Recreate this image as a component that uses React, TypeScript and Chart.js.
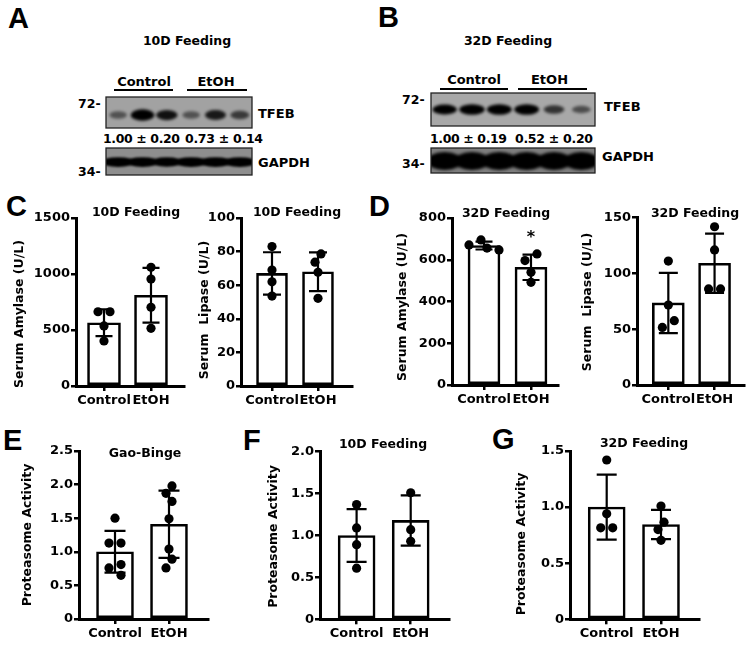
import React, { useEffect, useRef } from 'react';
import { Chart, registerables } from 'chart.js';
Chart.register(...registerables);

const W = 749;
const H = 645;
const FONT = '"DejaVu Sans", sans-serif';
const LETTER_FONT = '"Liberation Sans", Arial, sans-serif';

Chart.defaults.color = '#000';
Chart.defaults.font.family = FONT;

// ---------- data ----------
const groups = ['Control', 'EtOH'];

// C – 10D feeding
const amylase10Ticks = ['0', '500', '1000', '1500'];
const amylase10Mean = [565, 810];
const amylase10Sd = [120, 245];
const amylase10Control = [663, 663, 536, 402];
const amylase10Etoh = [1060, 955, 703, 515];

const lipase10Ticks = ['0', '20', '40', '60', '80', '100'];
const lipase10Mean = [67, 68];
const lipase10Sd = [12.6, 11.5];
const lipase10Control = [83, 69, 62, 53.5];
const lipase10Etoh = [78.6, 73.7, 67.7, 52.2];

// D – 32D feeding
const amylase32Ticks = ['0', '200', '400', '600', '800'];
const amylase32Mean = [668, 564];
const amylase32Sd = [19, 61];
const amylase32Control = [695, 671, 656, 647];
const amylase32Etoh = [628, 596, 540, 492];
const amylase32Marks = ['', '*'];

const lipase32Ticks = ['0', '50', '100', '150'];
const lipase32Mean = [73.5, 109];
const lipase32Sd = [27, 26.5];
const lipase32Control = [111, 71.6, 57.6, 51.6];
const lipase32Etoh = [141.7, 121, 86, 86];

// E – Gao-Binge
const gaoTicks = ['0', '0.5', '1.0', '1.5', '2.0', '2.5'];
const gaoMean = [1.0, 1.41];
const gaoSd = [0.31, 0.5];
const gaoControl = [1.5, 1.13, 1.13, 0.81, 0.76, 0.65];
const gaoEtoh = [1.98, 1.87, 1.75, 1.49, 1.04, 0.89, 0.76];

// F – 10D feeding proteasome
const prot10Ticks = ['0', '0.5', '1.0', '1.5', '2.0'];
const prot10Mean = [1.0, 1.18];
const prot10Sd = [0.315, 0.3];
const prot10Control = [1.37, 1.09, 0.89, 0.61];
const prot10Etoh = [1.51, 1.07, 0.93];

// G – 32D feeding proteasome
const prot32Ticks = ['0', '0.5', '1.0', '1.5'];
const prot32Mean = [1.0, 0.845];
const prot32Sd = [0.29, 0.13];
const prot32Control = [1.42, 0.94, 0.815, 0.815];
const prot32Etoh = [1.01, 0.866, 0.8, 0.704];

// Western blots (A, B)
const tfeb10Bands = [0.35, 0.95, 0.75, 0.35, 0.7, 0.5];
const gapdh10Bands = [0.95, 0.95, 0.9, 0.95, 0.95, 0.95];
const tfeb32Bands = [0.85, 0.95, 0.9, 0.9, 0.55, 0.4];
const gapdh32Bands = [1, 1, 1, 1, 1, 1];
const tfeb10Ratio = ['1.00 ± 0.20', '0.73 ± 0.14'];
const tfeb32Ratio = ['1.00 ± 0.19', '0.52 ± 0.20'];

// ---------- helpers ----------
type Panel = {
  id: string;
  title: string;
  yTitle: string;
  ticks: string[];
  mean: number[];
  sd: number[];
  control: number[];
  etoh: number[];
  marks?: string[];
  L: number; R: number; T: number; B: number;
  c1: number; c2: number;
  barW: number; cap: number;
  titleX: number; titleY: number;
  yTitleX: number; yTitleY: number;
};

function swarm(values: number[], group: number, pxPerY: number, pxPerX: number) {
  const D = 9.4;
  const step = 6;
  const order = values.map((_, i) => i).sort((a, b) => values[b] - values[a]);
  const placed: { i: number; dx: number; py: number }[] = [];
  for (const i of order) {
    const py = values[i] * pxPerY;
    for (let k = 0; k < 20; k++) {
      const cands = k === 0 ? [0] : [-k * step, k * step];
      const ok = cands.find((dx) => placed.every((p) => Math.hypot(p.dx - dx, p.py - py) >= D));
      if (ok !== undefined) {
        placed.push({ i, dx: ok, py });
        break;
      }
    }
  }
  // centre clusters of overlapping points
  const byY = [...placed].sort((a, b) => a.py - b.py);
  let start = 0;
  for (let j = 1; j <= byY.length; j++) {
    if (j === byY.length || byY[j].py - byY[j - 1].py >= D) {
      const cl = byY.slice(start, j);
      if (cl.length > 1) {
        const mn = Math.min(...cl.map((c) => c.dx));
        const mx = Math.max(...cl.map((c) => c.dx));
        const shift = -(mn + mx) / 2;
        cl.forEach((c) => (c.dx += shift));
      }
      start = j;
    }
  }
  const out: { x: number; y: number }[] = [];
  placed
    .sort((a, b) => a.i - b.i)
    .forEach((p) => out.push({ x: group + p.dx / pxPerX, y: values[p.i] }));
  return out;
}

function buildConfig(p: Panel): any {
  const yMax = parseFloat(p.ticks[p.ticks.length - 1]);
  const unit = p.c2 - p.c1;
  const xMin = 1 - (p.c1 - p.L) / unit;
  const xMax = 2 + (p.R - p.c2) / unit;
  const pxPerY = (p.B - p.T) / yMax;
  const pts = [...swarm(p.control, 1, pxPerY, unit), ...swarm(p.etoh, 2, pxPerY, unit)];
  const YW = 44;
  const XH = 32;
  const tickFont = { family: FONT, size: 13, weight: 'bold' };

  const decor = {
    id: 'decor_' + p.id,
    afterDatasetDraw(chart: any, args: any) {
      if (args.index !== 0) return;
      const ctx = chart.ctx;
      const xs = chart.scales.x;
      const ys = chart.scales.y;
      ctx.save();
      ctx.strokeStyle = '#000';
      ctx.lineWidth = 2.2;
      p.mean.forEach((m, i) => {
        const x = xs.getPixelForValue(i + 1);
        const yT = ys.getPixelForValue(m + p.sd[i]);
        const yB = ys.getPixelForValue(m - p.sd[i]);
        ctx.beginPath();
        ctx.moveTo(x, yT);
        ctx.lineTo(x, yB);
        ctx.moveTo(x - p.cap / 2, yT);
        ctx.lineTo(x + p.cap / 2, yT);
        ctx.moveTo(x - p.cap / 2, yB);
        ctx.lineTo(x + p.cap / 2, yB);
        ctx.stroke();
        const mk = p.marks ? p.marks[i] : '';
        if (mk) {
          ctx.fillStyle = '#000';
          ctx.font = `bold 16px ${FONT}`;
          ctx.textAlign = 'center';
          ctx.textBaseline = 'alphabetic';
          ctx.fillText(mk, x, yT - 13);
        }
      });
      ctx.restore();
    },
    afterDraw(chart: any) {
      const ctx = chart.ctx;
      ctx.save();
      ctx.fillStyle = '#000';
      ctx.font = `bold 12.5px ${FONT}`;
      ctx.textAlign = 'center';
      ctx.textBaseline = 'alphabetic';
      ctx.fillText(p.title, p.titleX, p.titleY);
      ctx.translate(p.yTitleX, p.yTitleY);
      ctx.rotate(-Math.PI / 2);
      ctx.textBaseline = 'middle';
      ctx.fillText(p.yTitle, 0, 0);
      ctx.restore();
    },
  };

  return {
    type: 'bar',
    data: {
      datasets: [
        {
          type: 'bar',
          label: 'Mean',
          data: p.mean.map((m, i) => ({ x: i + 1, y: m })),
          backgroundColor: '#fff',
          borderColor: '#000',
          borderWidth: 2.6,
          borderSkipped: false,
          barThickness: p.barW,
          order: 2,
        },
        {
          type: 'scatter',
          label: 'Values',
          data: pts,
          backgroundColor: '#000',
          borderColor: '#000',
          borderWidth: 0,
          pointRadius: 4.6,
          order: 1,
        },
      ],
    },
    options: {
      responsive: false,
      animation: false,
      events: [],
      layout: { padding: { left: p.L - YW, right: W - p.R, top: p.T, bottom: H - p.B - XH } },
      plugins: { legend: { display: false }, tooltip: { enabled: false }, title: { display: false } },
      scales: {
        x: {
          type: 'linear',
          min: xMin,
          max: xMax,
          offset: false,
          afterFit: (s: any) => {
            s.height = XH;
          },
          afterBuildTicks: (s: any) => {
            s.ticks = groups.map((_, i) => ({ value: i + 1 }));
          },
          ticks: {
            callback: (_v: any, i: number) => groups[i],
            font: tickFont,
            color: '#000',
            padding: 2,
            maxRotation: 0,
            autoSkip: false,
          },
          grid: { offset: false, drawOnChartArea: false, tickLength: 5, color: '#000', lineWidth: 2.5 },
          border: { color: '#000', width: 3 },
        },
        y: {
          type: 'linear',
          min: 0,
          max: yMax,
          afterFit: (s: any) => {
            s.width = YW;
          },
          afterBuildTicks: (s: any) => {
            s.ticks = p.ticks.map((t) => ({ value: parseFloat(t) }));
          },
          ticks: {
            callback: (_v: any, i: number) => p.ticks[i],
            font: tickFont,
            color: '#000',
            padding: 1,
            autoSkip: false,
          },
          grid: { drawOnChartArea: false, tickLength: 5, color: '#000', lineWidth: 2.5 },
          border: { color: '#000', width: 3 },
        },
      },
    },
    plugins: [decor],
  };
}

const panels: Panel[] = [
  {
    id: 'c1', title: '10D Feeding', yTitle: 'Serum Amylase (U/L)', ticks: amylase10Ticks,
    mean: amylase10Mean, sd: amylase10Sd, control: amylase10Control, etoh: amylase10Etoh,
    L: 76, R: 184, T: 218, B: 386, c1: 104, c2: 151, barW: 33, cap: 17,
    titleX: 136, titleY: 216, yTitleX: 20, yTitleY: 314,
  },
  {
    id: 'c2', title: '10D Feeding', yTitle: 'Serum  Lipase (U/L)', ticks: lipase10Ticks,
    mean: lipase10Mean, sd: lipase10Sd, control: lipase10Control, etoh: lipase10Etoh,
    L: 241, R: 352, T: 218, B: 386, c1: 272, c2: 318, barW: 31, cap: 18,
    titleX: 297, titleY: 216, yTitleX: 205, yTitleY: 310,
  },
  {
    id: 'd1', title: '32D Feeding', yTitle: 'Serum Amylase (U/L)', ticks: amylase32Ticks,
    mean: amylase32Mean, sd: amylase32Sd, control: amylase32Control, etoh: amylase32Etoh,
    marks: amylase32Marks,
    L: 452, R: 558, T: 218, B: 385, c1: 484, c2: 531, barW: 32, cap: 17,
    titleX: 506, titleY: 216.5, yTitleX: 403, yTitleY: 307,
  },
  {
    id: 'd2', title: '32D Feeding', yTitle: 'Serum  Lipase (U/L)', ticks: lipase32Ticks,
    mean: lipase32Mean, sd: lipase32Sd, control: lipase32Control, etoh: lipase32Etoh,
    L: 637, R: 745, T: 217.5, B: 385, c1: 668.5, c2: 715, barW: 32, cap: 19,
    titleX: 695, titleY: 216.5, yTitleX: 588, yTitleY: 302,
  },
  {
    id: 'e', title: 'Gao-Binge', yTitle: 'Proteasome Activity', ticks: gaoTicks,
    mean: gaoMean, sd: gaoSd, control: gaoControl, etoh: gaoEtoh,
    L: 79, R: 208, T: 451, B: 619, c1: 115, c2: 169, barW: 37, cap: 21,
    titleX: 145, titleY: 457, yTitleX: 28, yTitleY: 535,
  },
  {
    id: 'f', title: '10D Feeding', yTitle: 'Proteasome Activity', ticks: prot10Ticks,
    mean: prot10Mean, sd: prot10Sd, control: prot10Control, etoh: prot10Etoh,
    L: 320, R: 449, T: 451.7, B: 619.3, c1: 356.6, c2: 410.7, barW: 37, cap: 20,
    titleX: 383, titleY: 448, yTitleX: 274, yTitleY: 536.5,
  },
  {
    id: 'g', title: '32D Feeding', yTitle: 'Proteasome Activity', ticks: prot32Ticks,
    mean: prot32Mean, sd: prot32Sd, control: prot32Control, etoh: prot32Etoh,
    L: 570, R: 699, T: 451, B: 619.3, c1: 606.7, c2: 661, barW: 37, cap: 20,
    titleX: 644, titleY: 447, yTitleX: 522, yTitleY: 544,
  },
];

function BarPanel({ p }: { p: Panel }) {
  const ref = useRef<HTMLCanvasElement>(null);
  useEffect(() => {
    const chart = new Chart(ref.current as HTMLCanvasElement, buildConfig(p));
    return () => chart.destroy();
  }, []);
  return (
    <canvas
      ref={ref}
      width={W}
      height={H}
      style={{ position: 'absolute', left: 0, top: 0, width: W, height: H }}
    />
  );
}

// ---------- blots ----------
type BlotProps = {
  id: string; x: number; y: number; w: number; h: number; bg: string;
  bands: number[]; bandY: number; rx0: number; rx1: number; ry0: number; ry1: number; blur: number;
};

function Blot(b: BlotProps) {
  const n = b.bands.length;
  return (
    <g>
      <defs>
        <clipPath id={`clip_${b.id}`}>
          <rect x={b.x} y={b.y} width={b.w} height={b.h} />
        </clipPath>
        <filter id={`blur_${b.id}`} x="-50%" y="-50%" width="200%" height="200%">
          <feGaussianBlur stdDeviation={b.blur} />
        </filter>
      </defs>
      <rect x={b.x} y={b.y} width={b.w} height={b.h} fill={b.bg} />
      <g clipPath={`url(#clip_${b.id})`}>
        <g filter={`url(#blur_${b.id})`}>
          {b.bands.map((v, i) => (
            <ellipse
              key={i}
              cx={b.x + (b.w * (i + 0.5)) / n}
              cy={b.bandY}
              rx={b.rx0 + b.rx1 * v}
              ry={b.ry0 + b.ry1 * v}
              fill="#000"
              opacity={Math.min(1, 0.15 + v)}
            />
          ))}
        </g>
      </g>
      <rect x={b.x} y={b.y} width={b.w} height={b.h} fill="none" stroke="#222" strokeWidth={1.3} />
    </g>
  );
}

const T13 = { fontFamily: FONT, fontWeight: 'bold' as const, fontSize: 13, fill: '#000' };

function Overlay() {
  const letter = { fontFamily: LETTER_FONT, fontWeight: 'bold' as const, fontSize: 29, fill: '#000' };
  return (
    <svg width={W} height={H} style={{ position: 'absolute', left: 0, top: 0 }}>
      {/* panel letters */}
      <text x={8} y={28} {...letter}>A</text>
      <text x={378} y={27} {...letter}>B</text>
      <text x={6} y={216} {...letter}>C</text>
      <text x={369} y={216} {...letter}>D</text>
      <text x={3} y={450} {...letter}>E</text>
      <text x={243} y={450} {...letter}>F</text>
      <text x={492} y={449} {...letter}>G</text>

      {/* Panel A */}
      <text x={187} y={44.5} textAnchor="middle" {...T13} fontSize={12.5}>10D Feeding</text>
      <text x={144} y={86} textAnchor="middle" {...T13}>{groups[0]}</text>
      <text x={216} y={86} textAnchor="middle" {...T13}>{groups[1]}</text>
      <line x1={114} y1={90} x2={173} y2={90} stroke="#000" strokeWidth={2} />
      <line x1={187} y1={90} x2={247} y2={90} stroke="#000" strokeWidth={2} />
      <Blot id="a1" x={106} y={97} w={146} h={31} bg="#a2a2a2" bands={tfeb10Bands} bandY={115}
        rx0={7} rx1={5} ry0={2.5} ry1={3.5} blur={1.6} />
      <Blot id="a2" x={106} y={148} w={146} h={27} bg="#8e8e8e" bands={gapdh10Bands} bandY={162}
        rx0={12} rx1={5} ry0={2.5} ry1={2.5} blur={1.3} />
      <text x={78} y={108} {...T13} fontSize={12.5}>72-</text>
      <text x={78} y={176} {...T13} fontSize={12.5}>34-</text>
      <text x={258} y={117.5} {...T13}>TFEB</text>
      <text x={258} y={166.5} {...T13}>GAPDH</text>
      <text x={103} y={142.5} {...T13} fontSize={12.5} textLength={77} lengthAdjust="spacing">{tfeb10Ratio[0]}</text>
      <text x={185} y={142.5} {...T13} fontSize={12.5} textLength={78} lengthAdjust="spacing">{tfeb10Ratio[1]}</text>

      {/* Panel B */}
      <text x={508} y={45} textAnchor="middle" {...T13} fontSize={12.5}>32D Feeding</text>
      <text x={474} y={84} textAnchor="middle" {...T13}>{groups[0]}</text>
      <text x={549.5} y={84} textAnchor="middle" {...T13}>{groups[1]}</text>
      <line x1={440} y1={89} x2={508} y2={89} stroke="#000" strokeWidth={2} />
      <line x1={518} y1={89} x2={587} y2={89} stroke="#000" strokeWidth={2} />
      <Blot id="b1" x={431} y={93} w={164} h={33} bg="#a8a8a8" bands={tfeb32Bands} bandY={109.5}
        rx0={7} rx1={6} ry0={2.5} ry1={3} blur={1.5} />
      <Blot id="b2" x={431} y={148} w={164} h={25} bg="#7e7e7e" bands={gapdh32Bands} bandY={161}
        rx0={10} rx1={8} ry0={5} ry1={4} blur={1.4} />
      <text x={402} y={104} {...T13} fontSize={12.5}>72-</text>
      <text x={402} y={168} {...T13} fontSize={12.5}>34-</text>
      <text x={604} y={110.5} {...T13}>TFEB</text>
      <text x={602} y={161} {...T13}>GAPDH</text>
      <text x={430} y={142.5} {...T13} fontSize={12.5} textLength={77} lengthAdjust="spacing">{tfeb32Ratio[0]}</text>
      <text x={515} y={142.5} {...T13} fontSize={12.5} textLength={78} lengthAdjust="spacing">{tfeb32Ratio[1]}</text>
    </svg>
  );
}

export default function App() {
  return (
    <div style={{ position: 'absolute', left: 0, top: 0, width: W, height: H, background: '#fff', overflow: 'hidden' }}>
      <Overlay />
      {panels.map((p) => (
        <BarPanel key={p.id} p={p} />
      ))}
    </div>
  );
}
